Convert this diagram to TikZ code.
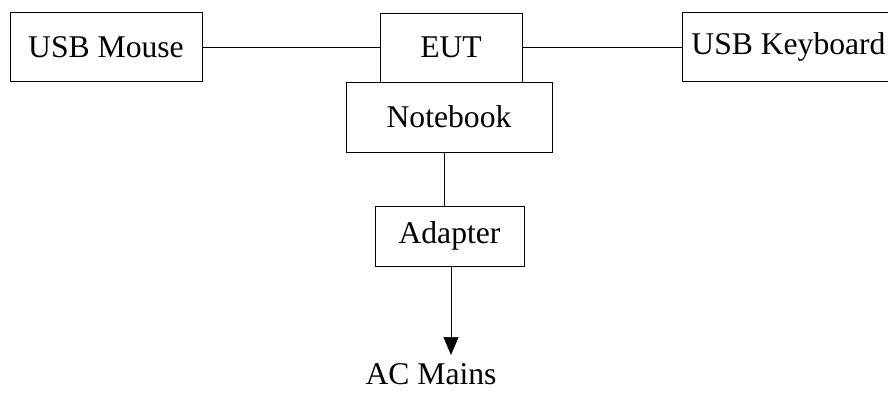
\documentclass[tikz,border=0pt]{standalone}
\usepackage{fontspec}
\setmainfont{Liberation Serif}
\usetikzlibrary{arrows.meta}
\usetikzlibrary{positioning}
\tikzset{x=0.02cm, y=-0.02cm, line width=1.2pt, font=\fontsize{18}{18}\selectfont}
\tikzstyle{block} = [draw, fill=white, rectangle, inner sep=0pt, text centered, align=center]
\tikzstyle{output} = [coordinate]

\begin{document}
\begin{tikzpicture}
    \useasboundingbox (0,0) rectangle (888,394);
    \node [block, minimum width=3.84cm, minimum height=1.38cm] at (106,47) (mouse) {USB Mouse};
    \node [block, minimum width=2.84cm, minimum height=1.38cm] at (451,47.5) (eut) {EUT};
    \node [block, minimum width=4.12cm, minimum height=1.40cm] at (449,117) (notebook) {Notebook};
    \node [block, minimum width=4.14cm, minimum height=1.38cm] at (786,47) (keyboard) {\hspace*{0.1cm}USB Keyboard};
    \node [block, minimum width=2.98cm, minimum height=1.20cm] at (449.5,236) (adapter) {Adapter};
    \node [inner sep=0pt] at (431,374) (mains) {AC Mains};
    \node [output] at (451,355) (mains_in) {};

    \draw (mouse.east) -- (mouse.east -| eut.west);
    \draw (eut.east) -- (eut.east -| keyboard.west);
    \draw ([xshift=-4.5*0.02cm]notebook.south) -- ([xshift=-4.5*0.02cm]notebook.south |- adapter.north);
    \draw [-{Triangle[width=0.3cm, length=0.36cm]}] (adapter.south -| mains_in) -- (mains_in);
\end{tikzpicture}
\end{document}
